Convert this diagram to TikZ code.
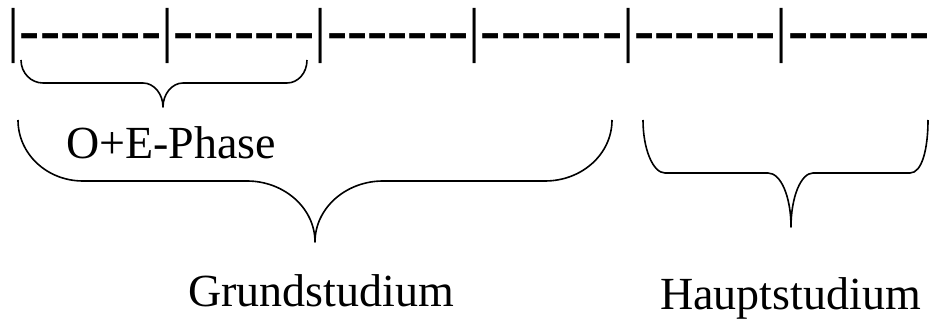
\documentclass[tikz,border=0pt]{standalone}
\usepackage{fontspec}
\setmainfont{Liberation Serif}
\newfontfamily\rulerfont{Liberation Serif}[Ligatures=TeXOff]
\usepackage{tikz}
\usetikzlibrary{positioning}

\newcommand{\semester}{\textmd{|}\textbf{-------}}

\begin{document}
\begin{tikzpicture}[x=1pt, y=-1pt]
		\tikzstyle{ruler} = [inner sep=0pt, anchor=base west, font=\rulerfont\fontsize{60.7}{72}\selectfont]
		\tikzstyle{phase} = [inner sep=0pt, anchor=base west, font=\fontsize{46}{54}\selectfont]
		\tikzstyle{brace} = [draw, line width=1.6pt, line join=round]
		\useasboundingbox (0,0) rectangle (932,320);

		\node [ruler] (semesters) at (7.5,51) {\semester\semester\semester\semester\semester\semester};

		% O+E-Phase brace
		\path [brace] (21,60) .. controls (21,73) and (31,83) .. (43,83) -- (143,83)
			.. controls (154,83) and (163,94) .. (163,107)
			.. controls (163,94) and (172,83) .. (183,83) -- (287,83)
			.. controls (298,83) and (307,73) .. (307,60);
		% Grundstudium brace
		\path [brace] (18,120) .. controls (18,154) and (47,181) .. (83,181) -- (247,181)
			.. controls (284,181) and (315,208) .. (315,242)
			.. controls (315,208) and (346,181) .. (383,181) -- (545,181)
			.. controls (582,181) and (612,154) .. (612,120);
		% Hauptstudium brace
		\path [brace] (643,120) .. controls (643,149) and (653,173) .. (665,173) -- (768,173)
			.. controls (781,173) and (791,197) .. (791,227)
			.. controls (791,197) and (801,173) .. (813,173) -- (910,173)
			.. controls (922,173) and (928,149) .. (928,120);

		\node [phase] (oe) at (66,159) {O+E-Phase};
		\node [phase] (grund) at (188,307) {Grundstudium};
		\node [phase] (haupt) at (660,310) {Hauptstudium};
	\end{tikzpicture}
\end{document}
